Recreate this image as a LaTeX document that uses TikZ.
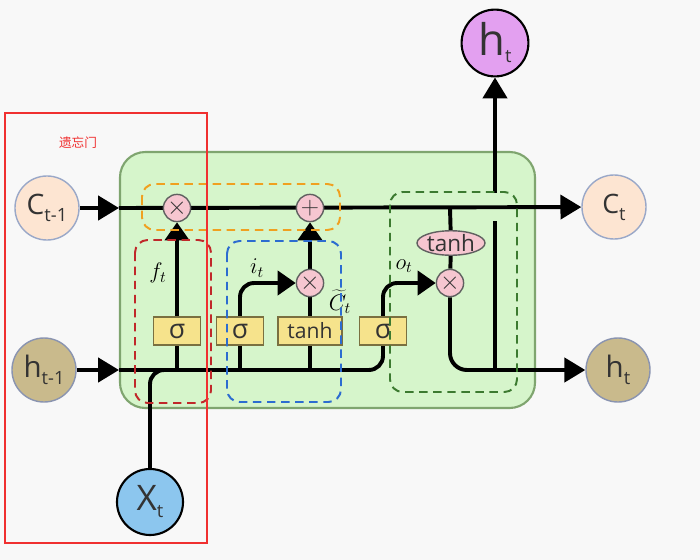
\documentclass[tikz,border=0pt]{standalone}
\usepackage{fix-cm}
\usepackage{fontspec}
\setsansfont{Open Sans}
\newfontfamily\cjk{Noto Sans CJK SC}
\usetikzlibrary{arrows.meta,shapes.geometric,calc}
\pgfdeclarelayer{bg}\pgfdeclarelayer{wires}\pgfsetlayers{bg,wires,main}
\definecolor{bgc}{HTML}{F8F8F8}
\definecolor{gfill}{HTML}{D6F5CB}
\definecolor{gbord}{HTML}{7FA56F}
\definecolor{peach}{HTML}{FDE5D2}
\definecolor{pbord}{HTML}{9AA8C8}
\definecolor{tanc}{HTML}{C9BA8C}
\definecolor{tbord}{HTML}{8A94B0}
\definecolor{lblue}{HTML}{8CC6EE}
\definecolor{violc}{HTML}{E3A0F0}
\definecolor{pinkc}{HTML}{F6C6D0}
\definecolor{opb}{HTML}{606060}
\definecolor{yc}{HTML}{F6E38C}
\definecolor{yb}{HTML}{7A7040}
\definecolor{orng}{HTML}{F0A020}
\definecolor{dred}{HTML}{C0282A}
\definecolor{dblue}{HTML}{2C6CD0}
\definecolor{dgreen}{HTML}{3C7A30}
\definecolor{txt}{HTML}{333333}
\definecolor{redr}{HTML}{F03030}
\newcommand\mylbl[4]{{\fontsize{#2}{#2}\selectfont #1}{\fontsize{#4}{#4}\selectfont\raisebox{-5pt}{#3}}}
\tikzset{
  wire/.style={line width=2.8pt, draw=black},
  arr/.style={wire, -{Triangle[length=0.52cm,width=0.6cm]}},
  sarr/.style={wire, -{Triangle[length=0.45cm,width=0.6cm]}},
  bigc/.style={circle, minimum size=1.6cm, inner sep=0pt, line width=1pt, font=\sffamily, text=txt},
  op/.style={circle, draw=opb, fill=pinkc, line width=1pt, minimum size=0.68cm, inner sep=0pt, text=txt, font=\fontsize{18}{18}\selectfont},
  gate/.style={rectangle, draw=yb, fill=yc, line width=1pt, minimum width=1.18cm, minimum height=0.7cm, inner sep=0pt, text=txt, font=\sffamily\fontsize{15}{15}\selectfont},
  dbox/.style={line width=1.4pt, rounded corners=9pt, dash pattern=on 6pt off 4pt},
  glab/.style={font=\fontsize{16}{16}\selectfont, inner sep=0pt}
}
\begin{document}
\begin{tikzpicture}[x=0.025cm, y=-0.025cm]
\useasboundingbox (0,0) rectangle (700,560);
\begin{pgfonlayer}{bg}
\fill[bgc] (0,0) rectangle (700,560);
\draw[fill=gfill, draw=gbord, line width=1.5pt, rounded corners=18pt] (120,152) rectangle (535,408);
\end{pgfonlayer}

% outer nodes
\node[bigc, fill=peach, draw=pbord] (cprev) at (47,208) {\mylbl{C}{20}{t-1}{13}};
\node[bigc, fill=tanc, draw=tbord] (hprev) at (44,370) {\mylbl{h}{21}{t-1}{13}};
\node[bigc, fill=lblue, draw=black, minimum size=1.65cm, line width=1.5pt] (xt) at (150,502) {\mylbl{X}{25}{t}{13}};
\node[bigc, fill=peach, draw=pbord] (ct) at (614,207) {\mylbl{C}{19}{t}{13}};
\node[bigc, fill=tanc, draw=tbord] (ht) at (618,370) {\mylbl{h}{21}{t}{13}};
\node[bigc, fill=violc, draw=black, minimum size=1.67cm, line width=1.5pt] (htop) at (495,43) {\mylbl{h}{31}{t}{13}};

% inner nodes
\node[op] (mul1) at (177,208) {$\times$};
\node[op] (add) at (310,208) {$+$};
\node[gate, font=\sffamily\fontsize{19}{19}\selectfont] (sig1) at (177,331) {σ};
\node[gate, font=\sffamily\fontsize{19}{19}\selectfont] (sig2) at (240,331) {σ};
\node[gate, minimum width=1.6cm] (tanh1) at (310,331) {tanh};
\node[op] (mul2) at (310,283) {$\times$};
\node[gate, font=\sffamily\fontsize{19}{19}\selectfont] (sig3) at (383,331) {σ};
\node[ellipse, draw=opb, fill=pinkc, line width=1pt, minimum width=1.6cm, minimum height=0.54cm, inner sep=0pt, text=txt, font=\sffamily\fontsize{16}{16}\selectfont] (tanh2) at (451,243) {tanh};
\node[op] (mul3) at (450,283) {$\times$};

\coordinate (cin) at (119,208);
\coordinate (hin) at (119,370);
\coordinate (xj) at (150,370);
\coordinate (tj) at (450,208);
\coordinate (vb) at (495,370);
\coordinate (vt) at (495,221);
\coordinate (vu) at (495,193);

\begin{pgfonlayer}{wires}
\draw[arr] (cprev) -- (cin);
\draw[arr] (cin) -- (ct);
\draw[arr] (hprev) -- (hin);
\draw[wire, rounded corners=10pt] (hin) -- (sig3.south |- hin) -- (sig3.south);
\draw[wire, rounded corners=10pt] (xt) -- (xj) -- ++(30,0);
\draw[wire] (sig1) -- (sig1 |- hin);
\draw[wire] (sig2) -- (sig2 |- hin);
\draw[wire] (tanh1) -- (tanh1 |- hin);
\draw[sarr] (sig1) -- (mul1);
\draw[sarr, rounded corners=10pt] (sig2) |- (mul2);
\draw[wire] (tanh1) -- (mul2);
\draw[sarr] (mul2) -- (add);
\draw[sarr, rounded corners=10pt] (sig3) |- (mul3);
\draw[wire] (tj) -- (tanh2);
\draw[wire] (tanh2) -- (mul3);
\draw[arr, rounded corners=12pt] (mul3) |- (ht);
\draw[wire] (vb) -- (vt);
\draw[arr] (vu) -- (htop);
\end{pgfonlayer}

% labels
\node[glab] (flab) at (158,273) {$f_t$};
\node[glab] (ilab) at (257,268) {$i_t$};
\node[glab] (olab) at (404,266) {$o_t$};
\node[glab] (clab) at (340,302) {$\widetilde{C}_t$};

% dashed groups
\draw[dbox, draw=orng] (142,184) rectangle (340,230);
\draw[dbox, draw=dred] (135,240) rectangle (211,403);
\draw[dbox, draw=dblue] (227,241) rectangle (341,402);
\draw[dbox, draw=dgreen] (390,192) rectangle (517,392);

% red frame
\draw[redr, line width=2pt] (5,113) rectangle (207,543);
\node[text=redr, font=\cjk\fontsize{9}{9}\selectfont, inner sep=0pt] (fg) at (78,143) {遗忘门};
\end{tikzpicture}
\end{document}
